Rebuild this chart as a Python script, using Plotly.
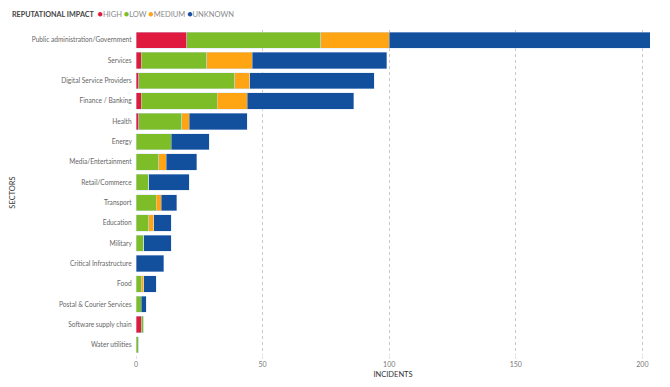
import plotly.graph_objects as go

sectors = ["Public administration/Government", "Services", "Digital Service Providers",
           "Finance / Banking", "Health", "Energy", "Media/Entertainment", "Retail/Commerce",
           "Transport", "Education", "Military", "Critical Infrastructure", "Food",
           "Postal & Courier Services", "Software supply chain", "Water utilities"]
high    = [20, 2, 1, 2, 1, 0, 0, 0, 0, 0, 0, 0, 0, 0, 2, 0]
low     = [53, 26, 38, 30, 17, 14, 9, 5, 8, 5, 3, 0, 2, 2, 1, 1]
medium  = [27, 18, 6, 12, 3, 0, 3, 0, 2, 2, 0, 0, 1, 0, 0, 0]
unknown = [103, 53, 49, 42, 23, 15, 12, 16, 6, 7, 11, 11, 5, 2, 0, 0]
x_ticks = [0, 50, 100, 150, 200]

series = [("HIGH", high, "#E0193F"), ("LOW", low, "#7DBD28"),
          ("MEDIUM", medium, "#FFA514"), ("UNKNOWN", unknown, "#12509E")]

FONT = "Lato"
fig = go.Figure()
for name, vals, col in series:
    fig.add_trace(go.Bar(
        y=sectors, x=vals, orientation="h", name=name, marker_color=col,
        marker_line=dict(color="rgba(210,225,245,0.7)", width=0.6),
        showlegend=False))

legend_text = "<b>REPUTATIONAL IMPACT</b>  " + "".join(
    f"<span style='color:{col};font-size:9px'>●</span><span style='color:#8a8a8a;font-size:7.5px'>{name}</span> "
    for name, _, col in series)
fig.add_annotation(text=legend_text, xref="paper", yref="paper", x=-0.245, y=1.0,
                   yshift=17, xanchor="left", yanchor="middle", showarrow=False,
                   font=dict(family=FONT, size=7.2, color="#444444"))

fig.update_layout(
    width=662, height=379,
    margin=dict(l=128, r=20, t=22, b=32, autoexpand=False),
    barmode="stack", bargap=0.2,
    plot_bgcolor="white", paper_bgcolor="white",
    font=dict(family=FONT, size=7, color="#666666"),
    showlegend=False,
    xaxis=dict(range=[0, 203], tickvals=x_ticks, showgrid=True, gridcolor="#c8c8c8",
               griddash="dot", gridwidth=1, zeroline=False, showline=False, automargin=False,
               ticks="outside", ticklen=3, tickcolor="#e2e2e2",
               tickfont=dict(size=7, color="#777777"),
               title=dict(text="INCIDENTS", font=dict(size=7.5, color="#333333"), standoff=4)),
    yaxis=dict(autorange="reversed", showgrid=False, zeroline=False, showline=False,
               automargin=False, ticksuffix="  ", tickfont=dict(size=6.6, color="#666666"),
               title=dict(text="SECTORS", font=dict(size=7.5, color="#333333"))),
)
fig.write_html("out.html")
